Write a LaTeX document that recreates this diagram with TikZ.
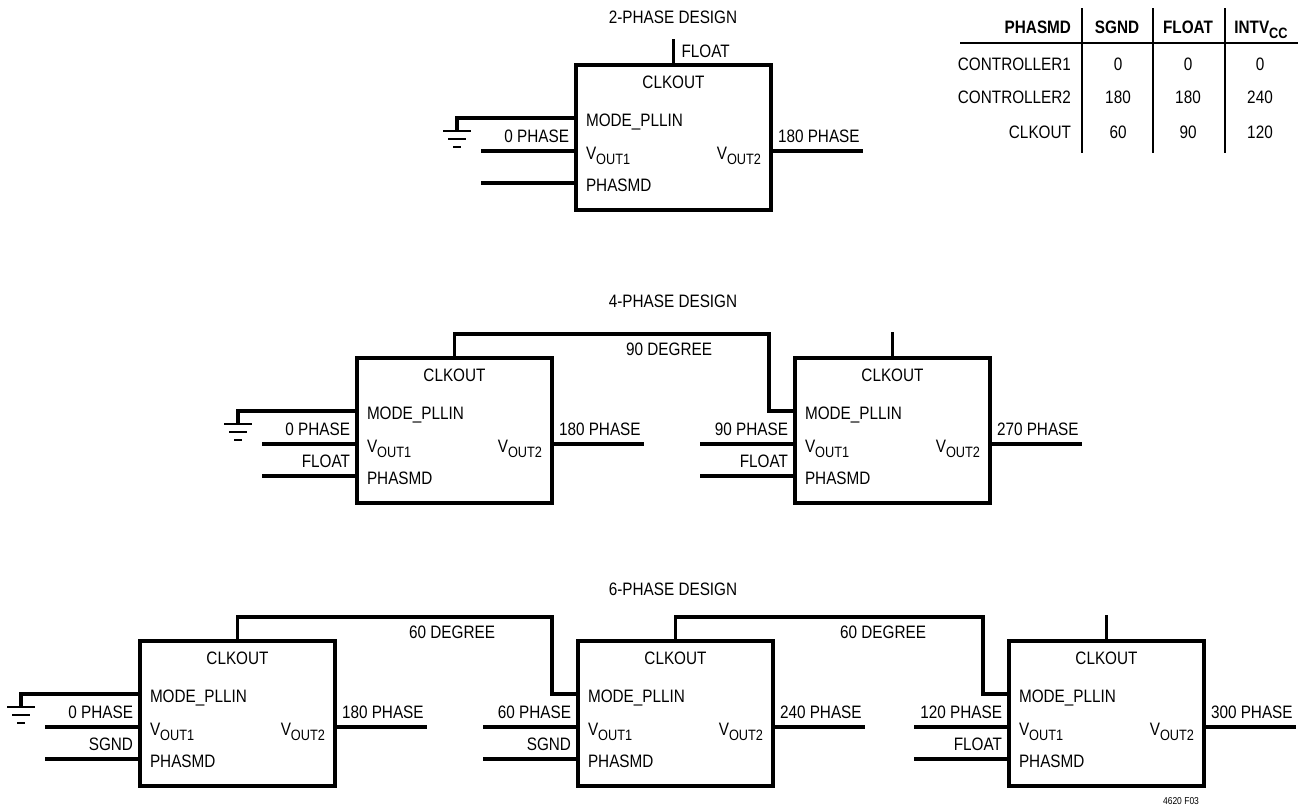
\documentclass[tikz,border=0pt]{standalone}
\usepackage{fontspec}
\setmainfont{Liberation Sans}[FakeStretch=0.85]
\usetikzlibrary{calc}
\newcommand\vsub[1]{\raisebox{-5pt}{\fontsize{15}{15}\selectfont #1}}
\newcommand\mkblock[3]{%
  \node[blk, anchor=north west] (#1) at (#2,#3) {};
  \coordinate (#1-m) at ($(#1.north west)+(0,53)$);
  \coordinate (#1-v1) at ($(#1.north west)+(0,86)$);
  \coordinate (#1-pm) at ($(#1.north west)+(0,118)$);
  \coordinate (#1-v2) at ($(#1.north east)+(0,86)$);
  \coordinate (#1-a1) at ($(#1-v1)+(-95,0)$);
  \coordinate (#1-a2) at ($(#1-pm)+(-95,0)$);
  \coordinate (#1-b) at ($(#1-v2)+(92,0)$);
  \draw[wire] (#1-a1) -- (#1-v1);
  \draw[wire] (#1-a2) -- (#1-pm);
  \draw[wire] (#1-v2) -- (#1-b);
  \node[anchor=base] (#1-tc) at ($(#1.north)+(0,23)$) {CLKOUT};
  \node[anchor=base west] (#1-tm) at ($(#1-m)+(10,8)$) {MODE\_PLLIN};
  \node[anchor=base west] (#1-tv1) at ($(#1-v1)+(10,8)$) {V\vsub{OUT1}};
  \node[anchor=base west] (#1-tp) at ($(#1-pm)+(10,8)$) {PHASMD};
  \node[anchor=base east] (#1-tv2) at ($(#1-v2)+(-10,8)$) {V\vsub{OUT2}};
}
\newcommand\mkgnd[2]{%
  \coordinate (#1) at ($(#2-m)+(-119,0)$);
  \draw[wire] (#2-m) -- (#1) -- ++(0,13);
  \draw[gbar] ($(#1)+(-14,13)$) -- ($(#1)+(14,13)$);
  \draw[gbar] ($(#1)+(-9,21)$) -- ($(#1)+(9,21)$);
  \draw[gbar] ($(#1)+(-4,29)$) -- ($(#1)+(4,29)$);
}
\newcommand\inlabels[4]{%
  \node[anchor=base east] (#1-l1) at ($(#1-v1)+(-7,-9)$) {#2};
  \node[anchor=base east] (#1-l2) at ($(#1-pm)+(-7,-9)$) {#3};
  \node[anchor=base west] (#1-r1) at ($(#1-v2)+(7,-9)$) {#4};
}
\newcommand\linkblocks[4]{% from, to, label, name
  \coordinate (#4-up) at ($(#1.north)+(0,-24)$);
  \coordinate (#4-in) at ($(#2-m)+(-26,0)$);
  \coordinate (#4-cr) at (#4-up -| #4-in);
  \draw[wire] (#1.north) -- (#4-up) -- (#4-cr) -- (#4-in) -- (#2-m);
  \node[anchor=base east] (#4-t) at ($(#4-cr)+(-57,21)$) {#3};
}
\newcommand\stub[2]{%
  \coordinate (#2) at ($(#1.north)+(0,-26)$);
  \draw[wire] (#1.north) -- (#2);
}
\begin{document}
\begin{tikzpicture}[x=1pt,y=-1pt,
  every node/.style={inner sep=0pt, outer sep=0pt, font=\fontsize{18}{20}\selectfont},
  wire/.style={line width=3.1pt},
  gbar/.style={line width=2.9pt},
  tline/.style={line width=2pt},
  blk/.style={draw, line width=3.4pt, minimum width=195pt, minimum height=145pt}]
\useasboundingbox (0,0) rectangle (1307,807);

% titles
\node[anchor=base] (t2) at (673,23) {2-PHASE DESIGN};
\node[anchor=base] (t4) at (673,307) {4-PHASE DESIGN};
\node[anchor=base] (t6) at (673,595) {6-PHASE DESIGN};

% 2-phase
\mkblock{A}{576}{65}
\mkgnd{gA}{A}
\inlabels{A}{0 PHASE}{}{180 PHASE}
\stub{A}{A-top}
\node[anchor=base west] (A-fl) at ($(A-top)+(8,18)$) {FLOAT};

% 4-phase
\mkblock{B}{357}{358}
\mkblock{C}{795}{358}
\mkgnd{gB}{B}
\inlabels{B}{0 PHASE}{FLOAT}{180 PHASE}
\inlabels{C}{90 PHASE}{FLOAT}{270 PHASE}
\linkblocks{B}{C}{90 DEGREE}{BC}
\stub{C}{C-top}

% 6-phase
\mkblock{D}{140}{641}
\mkblock{E}{578}{641}
\mkblock{F}{1009}{641}
\mkgnd{gD}{D}
\inlabels{D}{0 PHASE}{SGND}{180 PHASE}
\inlabels{E}{60 PHASE}{SGND}{240 PHASE}
\inlabels{F}{120 PHASE}{FLOAT}{300 PHASE}
\linkblocks{D}{E}{60 DEGREE}{DE}
\linkblocks{E}{F}{60 DEGREE}{EF}
\stub{F}{F-top}
\node[anchor=base, font=\fontsize{10}{12}\selectfont] (fig) at (1181,804) {4620 F03};

% table
\draw[tline] (1082,8) -- (1082,153);
\draw[tline] (1153,8) -- (1153,153);
\draw[tline] (1225,8) -- (1225,153);
\draw[tline] (960,43) -- (1298,43);
\node[anchor=base east, font=\fontsize{18}{20}\selectfont\bfseries] (h0) at (1071,33) {PHASMD};
\node[anchor=base, font=\fontsize{18}{20}\selectfont\bfseries] (h1) at (1117,33) {SGND};
\node[anchor=base, font=\fontsize{18}{20}\selectfont\bfseries] (h2) at (1188,33) {FLOAT};
\node[anchor=base, font=\fontsize{18}{20}\selectfont\bfseries] (h3) at (1261,33) {INTV\raisebox{-5pt}{\fontsize{15}{15}\selectfont CC}};
\node[anchor=base east] (r1) at (1071,70) {CONTROLLER1};
\node[anchor=base east] (r2) at (1071,103) {CONTROLLER2};
\node[anchor=base east] (r3) at (1071,138) {CLKOUT};
\node[anchor=base] (c11) at (1118,70) {0};
\node[anchor=base] (c12) at (1188,70) {0};
\node[anchor=base] (c13) at (1260,70) {0};
\node[anchor=base] (c21) at (1118,103) {180};
\node[anchor=base] (c22) at (1188,103) {180};
\node[anchor=base] (c23) at (1260,103) {240};
\node[anchor=base] (c31) at (1118,138) {60};
\node[anchor=base] (c32) at (1188,138) {90};
\node[anchor=base] (c33) at (1260,138) {120};
\end{tikzpicture}
\end{document}
